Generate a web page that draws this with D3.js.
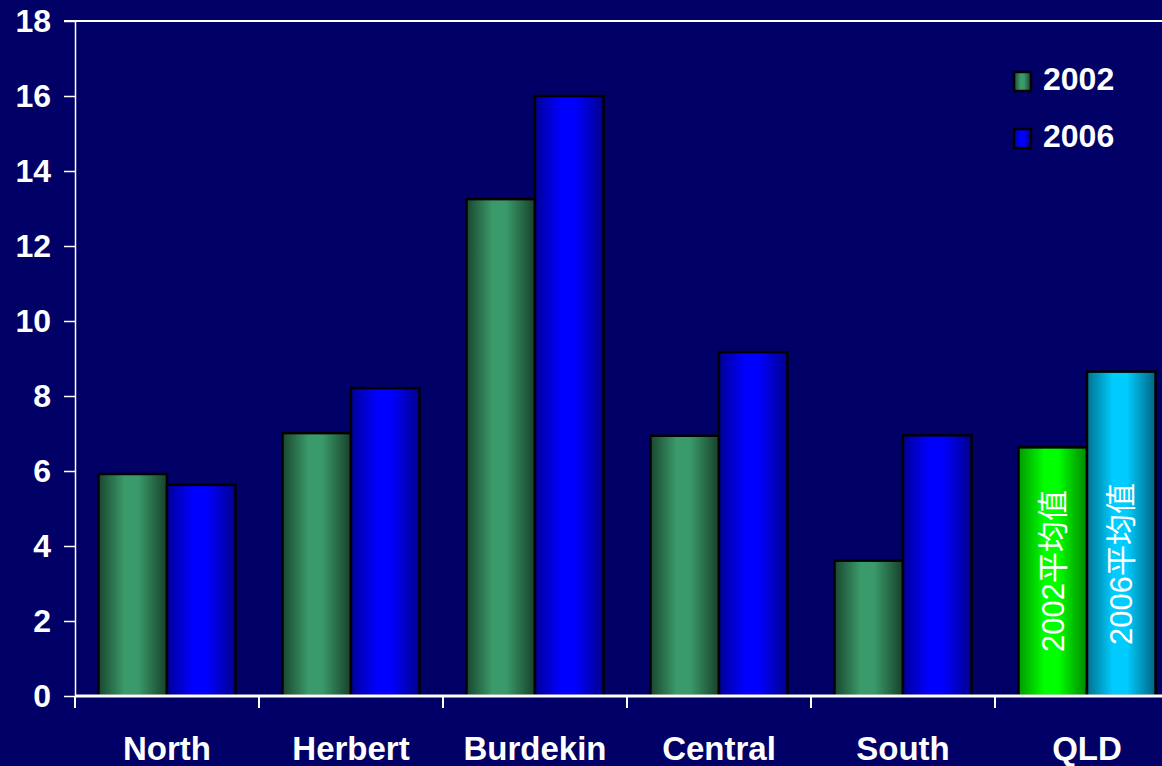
<!DOCTYPE html>
<html>
<head>
<meta charset="utf-8">
<script src="https://cdn.jsdelivr.net/npm/d3@7"></script>
<style>
  html, body { margin: 0; padding: 0; background: #010066; }
  svg { display: block; }
</style>
</head>
<body>
<script>
'use strict';

const categories = ['North', 'Herbert', 'Burdekin', 'Central', 'South', 'QLD'];
const seriesNames = ['2002', '2006'];
const values2002 = [5.92, 7.01, 13.25, 6.94, 3.61, 6.63];
const values2006 = [5.63, 8.21, 16.0, 9.17, 6.95, 8.65];
const yTicks = [0, 2, 4, 6, 8, 10, 12, 14, 16, 18];
const avgLabels = ['2002平均值', '2006平均值'];

const width = 1162, height = 766;
const margin = { top: 21, left: 75, bottom: 70 };
const step = 184;

const svg = d3.select('body')
  .append('svg')
  .attr('width', width)
  .attr('height', height);

svg.append('rect')
  .attr('width', width)
  .attr('height', height)
  .attr('fill', '#010066');

// gradients: dark edges, light middle
const defs = svg.append('defs');
const grads = {
  green: ['#1a4630', '#3a9a6a', '#17402b'],
  blue: ['#00009a', '#0000ff', '#00008c'],
  lime: ['#009a00', '#00ff00', '#008800'],
  cyan: ['#00728e', '#00ccff', '#006482']
};
Object.entries(grads).forEach(([id, c]) => {
  const g = defs.append('linearGradient')
    .attr('id', 'g-' + id)
    .attr('x1', '0%').attr('x2', '100%')
    .attr('y1', '0%').attr('y2', '0%');
  g.append('stop').attr('offset', '0%').attr('stop-color', c[0]);
  g.append('stop').attr('offset', '38%').attr('stop-color', c[1]);
  g.append('stop').attr('offset', '58%').attr('stop-color', c[1]);
  g.append('stop').attr('offset', '100%').attr('stop-color', c[2]);
});

const y = d3.scaleLinear()
  .domain([0, 18])
  .range([height - margin.bottom, margin.top]);

const x = d3.scaleBand()
  .domain(categories)
  .range([margin.left, margin.left + categories.length * step])
  .paddingInner(0.255)
  .paddingOuter(0.1275);

const xSub = d3.scaleBand()
  .domain(seriesNames)
  .range([0, x.bandwidth()]);

const rows = categories.map((c, i) => ({
  category: c,
  values: [
    { series: '2002', value: values2002[i] },
    { series: '2006', value: values2006[i] }
  ]
}));

const fillFor = (cat, s) => {
  if (cat === 'QLD') return s === '2002' ? 'url(#g-lime)' : 'url(#g-cyan)';
  return s === '2002' ? 'url(#g-green)' : 'url(#g-blue)';
};

// top border line
svg.append('line')
  .attr('x1', margin.left - 11).attr('x2', width)
  .attr('y1', y(18)).attr('y2', y(18))
  .attr('stroke', '#fff').attr('stroke-width', 2);

// y axis
const yAxis = svg.append('g')
  .attr('transform', `translate(${margin.left},0)`)
  .call(d3.axisLeft(y).tickValues(yTicks).tickSize(11).tickPadding(13).tickSizeOuter(0));
yAxis.select('.domain').attr('stroke', '#fff').attr('stroke-width', 1.5);
yAxis.selectAll('.tick line').attr('stroke', '#fff').attr('stroke-width', 1.5);
yAxis.selectAll('.tick text')
  .attr('fill', '#fff')
  .attr('font-family', '"Liberation Sans", Arial, sans-serif')
  .attr('font-weight', 'bold')
  .attr('font-size', 32);

// bars
const groups = svg.selectAll('g.cat')
  .data(rows)
  .enter()
  .append('g')
  .attr('class', 'cat')
  .attr('transform', d => `translate(${x(d.category)},0)`);

groups.selectAll('rect')
  .data(d => d.values.map(v => Object.assign({ category: d.category }, v)))
  .enter()
  .append('rect')
  .attr('x', d => xSub(d.series))
  .attr('y', d => y(d.value))
  .attr('width', xSub.bandwidth())
  .attr('height', d => y(0) - y(d.value))
  .attr('fill', d => fillFor(d.category, d.series))
  .attr('stroke', '#000')
  .attr('stroke-width', 2.5);

// average labels inside QLD bars
const qld = rows.find(r => r.category === 'QLD');
svg.selectAll('text.avg')
  .data(qld.values)
  .enter()
  .append('text')
  .attr('class', 'avg')
  .attr('transform', (d, i) => {
    const cx = x('QLD') + xSub(d.series) + xSub.bandwidth() / 2 + 11;
    const by = y(0) - (i === 0 ? 44 : 51);
    return `translate(${cx},${by}) rotate(-90)`;
  })
  .attr('fill', '#fff')
  .attr('font-family', '"Liberation Sans", "Noto Sans CJK SC", sans-serif')
  .attr('font-size', 31)
  .text((d, i) => avgLabels[i]);

// x axis
const xAxis = svg.append('g');
xAxis.append('line')
  .attr('x1', margin.left).attr('x2', width)
  .attr('y1', y(0)).attr('y2', y(0))
  .attr('stroke', '#fff').attr('stroke-width', 3);
xAxis.selectAll('line.tick')
  .data(categories)
  .enter()
  .append('line')
  .attr('class', 'tick')
  .attr('x1', d => x(d) - x.step() * x.paddingInner() / 2)
  .attr('x2', d => x(d) - x.step() * x.paddingInner() / 2)
  .attr('y1', y(0)).attr('y2', y(0) + 12)
  .attr('stroke', '#fff').attr('stroke-width', 2);
xAxis.selectAll('text')
  .data(categories)
  .enter()
  .append('text')
  .attr('x', d => x(d) + x.bandwidth() / 2)
  .attr('y', 760)
  .attr('text-anchor', 'middle')
  .attr('fill', '#fff')
  .attr('font-family', '"Liberation Sans", Arial, sans-serif')
  .attr('font-weight', 'bold')
  .attr('font-size', 33)
  .text(d => d);

// legend
const legend = svg.append('g')
  .attr('transform', 'translate(1014,72)');
const legendFill = ['url(#g-green)', 'url(#g-blue)'];
const li = legend.selectAll('g')
  .data(seriesNames)
  .enter()
  .append('g')
  .attr('transform', (d, i) => `translate(0,${i * 57})`);
li.append('rect')
  .attr('width', 17).attr('height', 19)
  .attr('fill', (d, i) => legendFill[i])
  .attr('stroke', '#000').attr('stroke-width', 2.5);
li.append('text')
  .attr('x', 29).attr('y', 18)
  .attr('fill', '#fff')
  .attr('font-family', '"Liberation Sans", Arial, sans-serif')
  .attr('font-weight', 'bold')
  .attr('font-size', 32)
  .text(d => d);
</script>
</body>
</html>
